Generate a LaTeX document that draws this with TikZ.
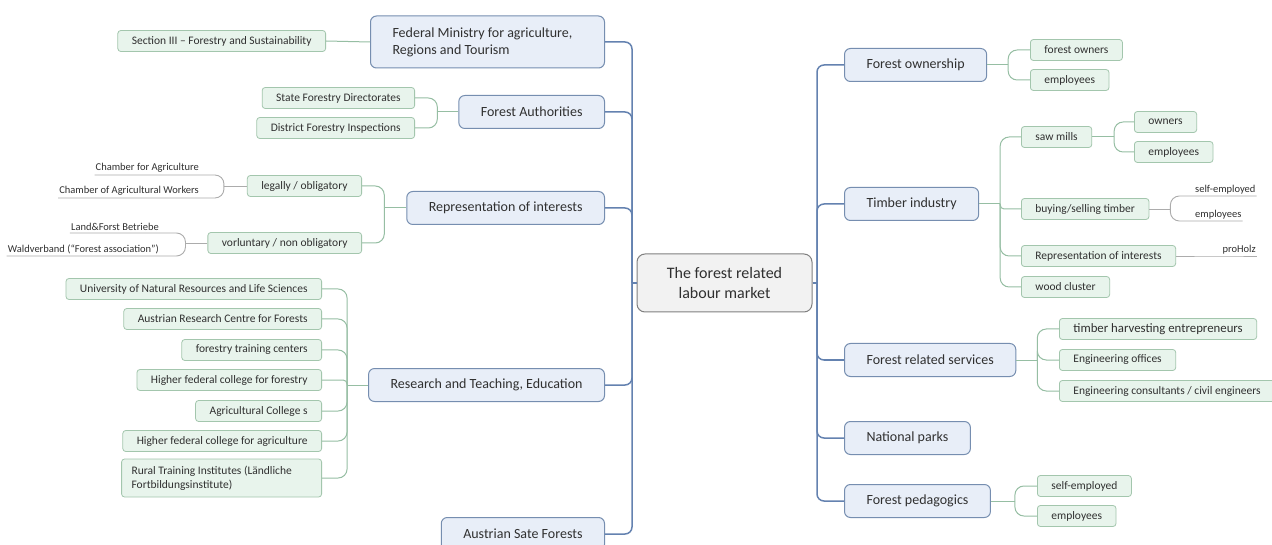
\documentclass[tikz,border=0pt]{standalone}
\usepackage{fontspec}
\setmainfont{Carlito}
\usetikzlibrary{positioning}
\definecolor{mainfill}{RGB}{232,238,248}
\definecolor{maindraw}{RGB}{118,142,176}
\definecolor{mainline}{RGB}{100,130,176}
\definecolor{subfill}{RGB}{232,244,236}
\definecolor{subdraw}{RGB}{163,198,173}
\definecolor{subline}{RGB}{150,190,163}
\definecolor{leafline}{RGB}{172,172,172}
\definecolor{rootfill}{RGB}{242,242,242}
\definecolor{rootdraw}{RGB}{128,128,128}
\definecolor{txt}{RGB}{48,48,48}
\tikzstyle{rootbox}=[rectangle,rounded corners=8pt,draw=rootdraw,fill=rootfill,line width=1pt,text=txt,align=center,minimum width=175pt,minimum height=58pt,font=\fontsize{16}{20}\selectfont]
\tikzstyle{mainbox}=[rectangle,rounded corners=6pt,draw=maindraw,fill=mainfill,line width=1pt,text=txt,inner xsep=22pt,minimum height=33pt,font=\fontsize{14}{17}\selectfont]
\tikzstyle{subbox}=[rectangle,rounded corners=3pt,draw=subdraw,fill=subfill,line width=0.8pt,text=txt,inner xsep=14pt,minimum height=21pt,font=\fontsize{11.5}{14}\selectfont]
\tikzstyle{leaf}=[inner xsep=1pt,inner ysep=2pt,text=txt,font=\fontsize{10.5}{12}\selectfont]
\tikzstyle{mainlink}=[draw=mainline,line width=1.5pt,rounded corners=7pt]
\tikzstyle{sublink}=[draw=subline,line width=1pt,rounded corners=9pt]
\tikzstyle{leaflink}=[draw=leafline,line width=0.9pt,rounded corners=9pt]

\begin{document}
\begin{tikzpicture}[x=1pt,y=-1pt]
\useasboundingbox (0,0) rectangle (1272,545);
\fill[white] (0,0) rectangle (1272,545);

\node[rootbox] (root) at (724.5,283) {The forest related\\labour market};
\coordinate (lsp) at (632,283);
\coordinate (rsp) at (817,283);

\node[mainbox,anchor=east,text width=190pt,align=flush left,minimum height=52pt] (fed) at (605,42) {Federal Ministry for agriculture,\\Regions and Tourism};
\node[mainbox,anchor=east] (fa) at (605,112) {Forest Authorities};
\node[mainbox,anchor=east] (rep) at (605,208) {Representation of interests};
\node[mainbox,anchor=east] (rte) at (605,385) {Research and Teaching, Education};
\node[mainbox,anchor=east] (asf) at (605,534) {Austrian Sate Forests};

\node[subbox,anchor=east] (sec) at (326,41) {Section III – Forestry and Sustainability};

\node[subbox,anchor=east] (sfd) at (415,98) {State Forestry Directorates};
\node[subbox,anchor=east] (dfi) at (415,128) {District Forestry Inspections};
\coordinate[left=21pt of fa] (jfa);

\node[subbox,anchor=east] (leg) at (362,186) {legally / obligatory};
\node[subbox,anchor=east] (vol) at (362,243) {vorluntary / non obligatory};
\coordinate[left=22pt of rep] (jrep);
\node[leaf,anchor=south east] (cfa) at (200,175) {Chamber for Agriculture};
\node[leaf,anchor=south east] (caw) at (200,198) {Chamber of Agricultural Workers};
\coordinate[left=23pt of leg] (jleg);
\node[leaf,anchor=south east] (lfb) at (160,233) {Land\&Forst Betriebe};
\node[leaf,anchor=south east] (wv) at (160,256) {Waldverband (“Forest association”)};
\coordinate[left=22pt of vol] (jvol);

\node[subbox,anchor=east] (univ) at (322,289) {University of Natural Resources and Life Sciences};
\node[subbox,anchor=east] (arc) at (322,319) {Austrian Research Centre for Forests};
\node[subbox,anchor=east] (ftc) at (322,350) {forestry training centers};
\node[subbox,anchor=east] (hfcf) at (322,380) {Higher federal college for forestry};
\node[subbox,anchor=east] (agc) at (322,411) {Agricultural College s};
\node[subbox,anchor=east] (hfca) at (322,441) {Higher federal college for agriculture};
\node[subbox,anchor=east,text width=180pt,inner xsep=10pt,align=flush left,minimum height=38pt] (rti) at (322,478) {Rural Training Institutes (Ländliche\\Fortbildungsinstitute)};
\coordinate[left=21pt of rte] (jrte);

\node[mainbox,anchor=west] (fow) at (844,65) {Forest ownership};
\node[mainbox,anchor=west] (tim) at (844,204) {Timber industry};
\node[mainbox,anchor=west] (frs) at (844,360) {Forest related services};
\node[mainbox,anchor=west] (np) at (844,438) {National parks};
\node[mainbox,anchor=west] (fp) at (844,501) {Forest pedagogics};

\node[subbox,anchor=west] (fown) at (1030,50) {forest owners};
\node[subbox,anchor=west] (emp1) at (1030,80) {employees};
\coordinate[right=21pt of fow] (jfow);

\node[subbox,anchor=west] (saw) at (1021,137) {saw mills};
\node[subbox,anchor=west] (bst) at (1021,209) {buying/selling timber};
\node[subbox,anchor=west] (rep2) at (1021,256) {Representation of interests};
\node[subbox,anchor=west] (wc) at (1021,287) {wood cluster};
\coordinate[right=21pt of tim] (jtim);
\node[subbox,anchor=west] (own2) at (1134,122) {owners};
\node[subbox,anchor=west] (emp2) at (1134,152) {employees};
\coordinate[right=22pt of saw] (jsaw);
\node[leaf,anchor=south west] (sem1) at (1194,196) {self-employed};
\node[leaf,anchor=south west] (emp3) at (1194,221) {employees};
\coordinate[right=21pt of bst] (jbst);
\node[leaf,anchor=south east] (ph) at (1257,256) {proHolz};

\node[subbox,anchor=west,font=\fontsize{12.8}{15}\selectfont] (the) at (1059,329) {timber harvesting entrepreneurs};
\node[subbox,anchor=west] (eno) at (1059,360) {Engineering offices};
\node[subbox,anchor=west] (ecc) at (1059,391) {Engineering consultants / civil engineers};
\coordinate[right=21pt of frs] (jfrs);

\node[subbox,anchor=west] (sem2) at (1037,486) {self-employed};
\node[subbox,anchor=west] (emp4) at (1037,516) {employees};
\coordinate[right=24pt of fp] (jfp);

\draw[mainlink] (root.west) -- (lsp);
\draw[mainlink] (lsp) |- (fed.east);
\draw[mainlink] (lsp) |- (fa.east);
\draw[mainlink] (lsp) |- (rep.east);
\draw[mainlink] (lsp) |- (rte.east);
\draw[mainlink] (lsp) |- (asf.east);
\draw[mainlink] (root.east) -- (rsp);
\draw[mainlink] (rsp) |- (fow.west);
\draw[mainlink] (rsp) |- (tim.west);
\draw[mainlink] (rsp) |- (frs.west);
\draw[mainlink] (rsp) |- (np.west);
\draw[mainlink] (rsp) |- (fp.west);

\draw[sublink] (fed.west) -- (sec.east);
\draw[sublink] (fa.west) -- (jfa);
\draw[sublink] (jfa) |- (sfd.east);
\draw[sublink] (jfa) |- (dfi.east);
\draw[sublink] (rep.west) -- (jrep);
\draw[sublink] (jrep) |- (leg.east);
\draw[sublink] (jrep) |- (vol.east);
\draw[leaflink] (leg.west) -- (jleg);
\draw[leaflink] (jleg) |- (cfa.south east) -- (cfa.south west);
\draw[leaflink] (jleg) |- (caw.south east) -- (caw.south west);
\draw[leaflink] (vol.west) -- (jvol);
\draw[leaflink] (jvol) |- (lfb.south east) -- (lfb.south west);
\draw[leaflink] (jvol) |- (wv.south east) -- (wv.south west);
\draw[sublink] (rte.west) -- (jrte);
\draw[sublink] (jrte) |- (univ.east);
\draw[sublink] (jrte) |- (arc.east);
\draw[sublink] (jrte) |- (ftc.east);
\draw[sublink,rounded corners=4pt] (jrte) |- (hfcf.east);
\draw[sublink] (jrte) |- (agc.east);
\draw[sublink] (jrte) |- (hfca.east);
\draw[sublink] (jrte) |- (rti.east);

\draw[sublink] (fow.east) -- (jfow);
\draw[sublink] (jfow) |- (fown.west);
\draw[sublink] (jfow) |- (emp1.west);
\draw[sublink] (tim.east) -- (jtim);
\draw[sublink] (jtim) |- (saw.west);
\draw[sublink,rounded corners=4pt] (jtim) |- (bst.west);
\draw[sublink] (jtim) |- (rep2.west);
\draw[sublink] (jtim) |- (wc.west);
\draw[sublink] (saw.east) -- (jsaw);
\draw[sublink] (jsaw) |- (own2.west);
\draw[sublink] (jsaw) |- (emp2.west);
\draw[leaflink] (bst.east) -- (jbst);
\draw[leaflink] (jbst) |- (sem1.south west) -- (sem1.south east);
\draw[leaflink] (jbst) |- (emp3.south west) -- (emp3.south east);
\draw[leaflink] (rep2.east) -- (ph.south west) -- (ph.south east);
\draw[sublink] (frs.east) -- (jfrs);
\draw[sublink] (jfrs) |- (the.west);
\draw[sublink] (jfrs) |- (eno.west);
\draw[sublink] (jfrs) |- (ecc.west);
\draw[sublink] (fp.east) -- (jfp);
\draw[sublink] (jfp) |- (sem2.west);
\draw[sublink] (jfp) |- (emp4.west);
\end{tikzpicture}
\end{document}
